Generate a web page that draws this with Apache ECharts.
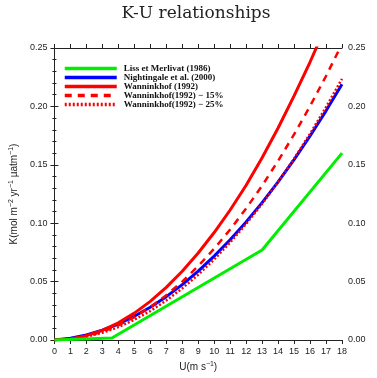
<!DOCTYPE html>
<html>
<head>
<meta charset="utf-8">
<script src="https://cdn.jsdelivr.net/npm/echarts@6/dist/echarts.min.js"></script>
<style>
html,body{margin:0;padding:0;background:#fff;}
#main{width:377px;height:378px;}
</style>
</head>
<body>
<div id="main"></div>
<script>
// wind speed U (m s^-1)
var windSpeed = [0,1,2,3,4,5,6,7,8,9,10,11,12,13,14,15,16,17,18];
var xTicks = ['0','1','2','3','4','5','6','7','8','9','10','11','12','13','14','15','16','17','18'];

// Liss et Merlivat (1986) - piecewise, read at its break points
var lissU = [0, 3.6, 13, 18];
var lissK = [0, 0.0017, 0.077, 0.16];

// Nightingale et al. (2000)
var nightingaleK = [0,0.0016,0.0044,0.0084,0.0137,0.0203,0.0281,0.0371,0.0474,0.0590,0.0718,0.0858,0.1011,0.1176,0.1354,0.1544,0.1747,0.1962,0.2190];

// Wanninkhof (1992)
var wanninkhofK = [0,0.0009,0.0037,0.0083,0.0147,0.0230,0.0331,0.0451,0.0589,0.0745,0.0920,0.1113,0.1325,0.1560,0.1815,0.2090,0.2380,0.2690,0.3000];
// Wanninkhof (1992) - 15%
var wann15K = [0,0.0008,0.0031,0.0070,0.0125,0.0196,0.0282,0.0383,0.0500,0.0633,0.0782,0.0946,0.1126,0.1322,0.1533,0.1760,0.2002,0.2260,0.2534];
// Wanninkhof (1992) - 25%
var wann25K = [0,0.0007,0.0028,0.0062,0.0110,0.0173,0.0248,0.0338,0.0442,0.0559,0.0690,0.0835,0.0994,0.1166,0.1352,0.1553,0.1766,0.1994,0.2236];

var seriesNames = ['Liss et Merlivat (1986)','Nightingale et al. (2000)','Wanninkhof (1992)','Wanninkhof(1992) \u2212 15%','Wanninkhof(1992) \u2212 25%'];

function pairs(xs, ys){
	var out = [];
	for(var i=0;i<ys.length;i++){
		out.push([xs[i], ys[i]]);
	}
	return out;
}

var axisColor = '#222';
var supStyle = {fontSize:7, verticalAlign:'top', padding:[0,0,5,0], color:axisColor, fontFamily:'Liberation Sans'};

function yAxisCfg(pos, showName){
	return {
		type:'value',
		position:pos,
		min:0,
		max:0.25,
		interval:0.05,
		name: showName ? 'K(mol m{sup|\u22122} yr{sup|\u22121} \u00b5atm{sup|\u22121})' : '',
		nameLocation:'middle',
		nameGap:26,
		nameTextStyle:{
			fontSize:10,
			color:axisColor,
			fontFamily:'Liberation Sans',
			rich:{sup:supStyle}
		},
		axisLine:{show:true,lineStyle:{color:axisColor,width:1}},
		axisTick:{show:true,inside:false,length:4,lineStyle:{color:axisColor}},
		minorTick:{show:true,splitNumber:5,length:2,lineStyle:{color:axisColor}},
		axisLabel:{
			margin: pos==='left' ? 7 : 6,
			fontSize:9,
			color:axisColor,
			fontFamily:'Liberation Sans',
			formatter:function(v){ return v.toFixed(2); }
		},
		splitLine:{show:false}
	};
}

function lineSeries(name, xs, ys, color, width, dash){
	return {
		name:name,
		type:'line',
		symbol:'none',
		legendIcon:'none',
		data:pairs(xs,ys),
		lineStyle:{color:color,width:width,type:dash||'solid'},
		itemStyle:{color:color}
	};
}

var chart = echarts.init(document.getElementById('main'));
chart.setOption({
	animation:false,
	backgroundColor:'#fff',
	title:{
		text:'K-U relationships',
		left:191,
		textAlign:'center',
		top:0,
		textStyle:{fontFamily:'DejaVu Serif',fontSize:17,fontWeight:'normal',color:'#222'}
	},
	legend:{
		orient:'vertical',
		left:63,
		top:64,
		padding:0,
		itemWidth:52,
		itemHeight:6,
		itemGap:0,
		data:seriesNames,
		itemStyle:{opacity:0},
		lineStyle:{width:3.5},
		textStyle:{fontSize:9,lineHeight:8,fontFamily:'Liberation Serif',fontWeight:'bold',color:'#111',padding:[0,0,0,2]}
	},
	grid:{left:50,right:35,top:48,bottom:38},
	xAxis:[{
		type:'value',
		position:'bottom',
		min:0,
		max:18,
		interval:1,
		name:'U(m s{sup|\u22121})',
		nameLocation:'middle',
		nameGap:20,
		nameTextStyle:{fontSize:10,color:axisColor,fontFamily:'Liberation Sans',rich:{sup:supStyle}},
		axisLine:{show:true,onZero:false,lineStyle:{color:axisColor}},
		axisTick:{show:true,length:4,lineStyle:{color:axisColor}},
		axisLabel:{margin:7,fontSize:9,color:axisColor,fontFamily:'Liberation Sans',
			formatter:function(v){ return xTicks[Math.round(v)]; }},
		splitLine:{show:false}
	},{
		type:'value',
		position:'top',
		min:0,
		max:18,
		interval:1,
		axisLine:{show:true,onZero:false,lineStyle:{color:axisColor}},
		axisTick:{show:true,length:4,lineStyle:{color:axisColor}},
		axisLabel:{show:false},
		splitLine:{show:false}
	}],
	yAxis:[yAxisCfg('left',true), yAxisCfg('right',false)],
	series:[
		lineSeries(seriesNames[1], windSpeed, nightingaleK, '#0000ff', 3),
		lineSeries(seriesNames[2], windSpeed, wanninkhofK, '#ff0000', 3),
		lineSeries(seriesNames[3], windSpeed, wann15K, '#ff0000', 2.5, [7,6]),
		lineSeries(seriesNames[4], windSpeed, wann25K, '#ff0000', 2.5, [2,2]),
		lineSeries(seriesNames[0], lissU, lissK, '#00ee00', 3)
	]
});
</script>
</body>
</html>
